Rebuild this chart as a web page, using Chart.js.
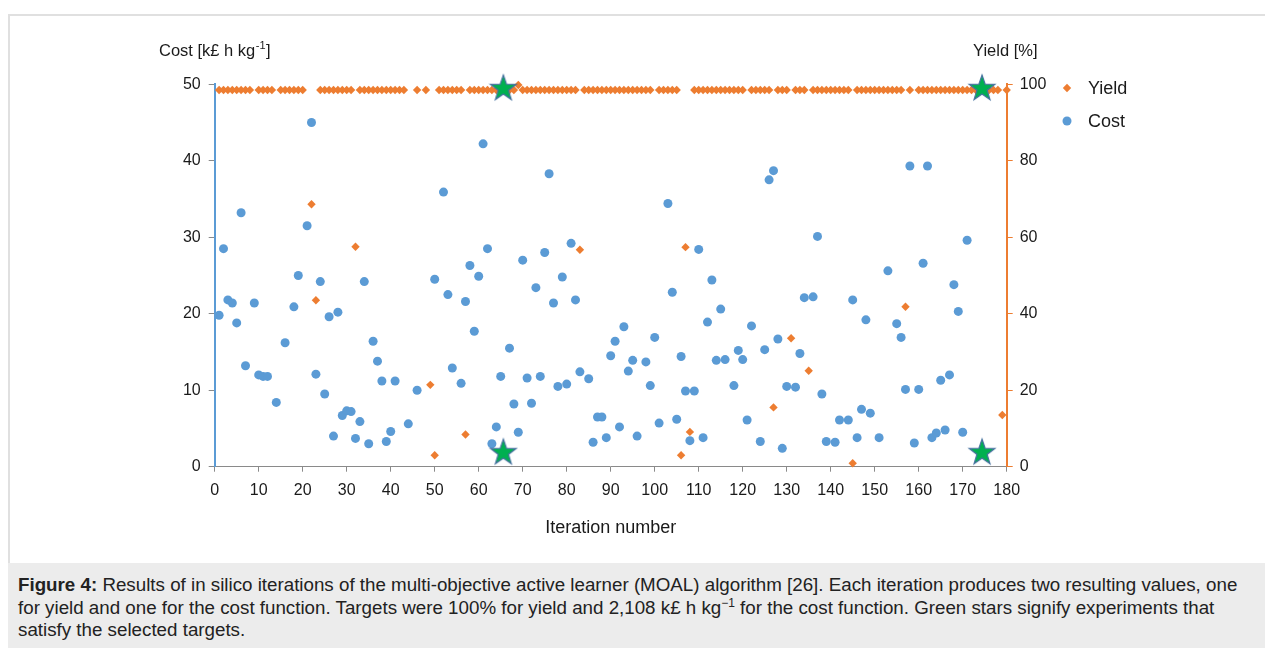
<!DOCTYPE html>
<html>
<head>
<meta charset="utf-8">
<script src="https://cdn.jsdelivr.net/npm/chart.js@4.4.1/dist/chart.umd.min.js"></script>
<style>
  body { margin: 0; background: #fff; width: 1265px; height: 648px; overflow: hidden; position: relative;
         font-family: 'Liberation Sans', Arial, sans-serif; }
  #frame { position: absolute; left: 8px; top: 14px; width: 1257px; height: 549px; box-sizing: border-box;
           border-top: 2px solid #e0e0e0; border-left: 2px solid #e0e0e0; }
  #chart { position: absolute; left: 0; top: 0; }
  #caption { position: absolute; left: 8px; top: 563px; width: 1257px; height: 85px; box-sizing: border-box;
             background: #ececec; padding: 11px 0 0 10px; font-size: 18.75px; line-height: 22.5px; color: #222;
             white-space: nowrap; }
  #caption sup { font-size: 12px; line-height: 0; }
</style>
</head>
<body>
<div id="frame"></div>
<canvas id="chart" width="1265" height="560"></canvas>
<div id="caption">
  <div><b>Figure 4:</b> Results of in silico iterations of the multi-objective active learner (MOAL) algorithm [26]. Each iteration produces two resulting values, one</div>
  <div>for yield and one for the cost function. Targets were 100% for yield and 2,108 k£ h kg<sup>−1</sup> for the cost function. Green stars signify experiments that</div>
  <div>satisfy the selected targets.</div>
</div>
<script>
// iteration numbers 1..180
const iterations = Array.from({ length: 180 }, (_, i) => i + 1);

// cost per iteration (null = not shown, above 50)
const costValues = [
  19.8, 28.5, 21.8, 21.4, 18.8, 33.2, 13.2, null, 21.4, 12.0,
  11.8, 11.8, null, 8.4, null, 16.2, null, 20.9, 25.0, null,
  31.5, 45.0, 12.1, 24.2, 9.5, 19.6, 4.0, 20.2, 6.7, 7.3,
  7.2, 3.7, 5.9, 24.2, 3.0, 16.4, 13.8, 11.2, 3.3, 4.6,
  11.2, null, null, 5.6, null, 10.0, null, null, null, 24.5,
  null, 35.9, 22.5, 12.9, null, 10.9, 21.6, 26.3, 17.7, 24.9,
  42.2, 28.5, 3.0, 5.2, 11.8, null, 15.5, 8.2, 4.5, 27.0,
  11.6, 8.3, 23.4, 11.8, 28.0, 38.3, 21.4, 10.5, 24.8, 10.8,
  29.2, 21.8, 12.4, null, 11.5, 3.2, 6.5, 6.5, 3.8, 14.5,
  16.4, 5.2, 18.3, 12.5, 13.9, 4.0, null, 13.7, 10.6, 16.9,
  5.7, null, 34.4, 22.8, 6.2, 14.4, 9.9, 3.4, 9.9, 28.4,
  3.8, 18.9, 24.4, 13.9, 20.6, 14.0, null, 10.6, 15.2, 14.0,
  6.1, 18.4, null, 3.3, 15.3, 37.5, 38.7, 16.7, 2.4, 10.5,
  null, 10.4, 14.8, 22.1, null, 22.2, 30.1, 9.5, 3.3, null,
  3.2, 6.1, null, 6.1, 21.8, 3.8, 7.5, 19.2, 7.0, null,
  3.8, null, 25.6, null, 18.7, 16.9, 10.1, 39.3, 3.1, 10.1,
  26.6, 39.3, 3.8, 4.4, 11.3, 4.8, 12.0, 23.8, 20.3, 4.5,
  29.6, null, null, null, null, null, null, null, null, null
];

// yield per iteration in %
const yieldValues = [
  98.5, 98.5, 98.5, 98.5, 98.5, 98.5, 98.5, 98.5, null, 98.5,
  98.5, 98.5, 98.5, null, 98.5, 98.5, 98.5, 98.5, 98.5, 98.5,
  null, 68.6, 43.5, 98.5, 98.5, 98.5, 98.5, 98.5, 98.5, 98.5,
  98.5, 57.5, 98.5, 98.5, 98.5, 98.5, 98.5, 98.5, 98.5, 98.5,
  98.5, 98.5, 98.5, null, null, 98.5, null, 98.5, 21.4, 3.0,
  98.5, 98.5, 98.5, 98.5, 98.5, 98.5, 8.4, 98.5, 98.5, 98.5,
  98.5, 98.5, 98.5, 98.5, 98.5, 98.5, 98.5, 98.5, 99.8, 98.5,
  98.5, 98.5, 98.5, 98.5, 98.5, 98.5, 98.5, 98.5, 98.5, 98.5,
  98.5, 98.5, 56.7, 98.5, 98.5, 98.5, 98.5, 98.5, 98.5, 98.5,
  98.5, 98.5, 98.5, 98.5, 98.5, 98.5, 98.5, 98.5, 98.5, null,
  98.5, 98.5, 98.5, 98.5, 98.5, 3.0, 57.4, 9.1, 98.5, 98.5,
  98.5, 98.5, 98.5, 98.5, 98.5, 98.5, 98.5, 98.5, 98.5, 98.5,
  null, 98.5, 98.5, 98.5, 98.5, 98.5, 15.5, 98.5, 98.5, 98.5,
  33.6, 98.5, 98.5, 98.5, 25.1, 98.5, 98.5, 98.5, 98.5, 98.5,
  98.5, 98.5, 98.5, 98.5, 0.9, 98.5, 98.5, 98.5, 98.5, 98.5,
  98.5, 98.5, 98.5, 98.5, 98.5, 98.5, 41.8, 98.5, null, 98.5,
  98.5, 98.5, 98.5, 98.5, 98.5, 98.5, 98.5, 98.5, 98.5, 98.5,
  98.5, 98.5, 98.5, 98.5, 98.5, 98.5, 98.5, 98.5, 13.5, 98.5
];

// green stars: experiments meeting both targets
const starIterations = [65.6, 174.4];
const starYield = [99, 99];
const starCost = [1.9, 1.9];

const ORANGE = '#ed7d31';
const BLUE = '#5b9bd5';
const TEXT = '#1a1a1a';
const FONT = "'Liberation Sans', Arial, sans-serif";

function toPoints(xs, ys) {
  return xs.map((x, i) => ({ x: x, y: ys[i] })).filter(p => p.y !== null);
}

// star marker drawn once on a small canvas
function makeStar() {
  const c = document.createElement('canvas');
  c.width = 30; c.height = 30;
  const g = c.getContext('2d');
  g.beginPath();
  for (let i = 0; i < 10; i++) {
    const r = i % 2 === 0 ? 13.5 : 5.4;
    const a = -Math.PI / 2 + i * Math.PI / 5;
    const px = 15 + r * Math.cos(a), py = 15.5 + r * Math.sin(a);
    if (i === 0) g.moveTo(px, py); else g.lineTo(px, py);
  }
  g.closePath();
  g.fillStyle = '#00b050';
  g.fill();
  g.lineWidth = 1.2;
  g.strokeStyle = '#44709e';
  g.stroke();
  return c;
}
const starImg = makeStar();

// legend + horizontal axis titles
const extras = {
  id: 'extras',
  afterDraw(chart) {
    const ctx = chart.ctx;
    ctx.save();
    ctx.textBaseline = 'middle';
    ctx.fillStyle = TEXT;

    // axis titles
    ctx.font = '16.5px ' + FONT;
    ctx.textAlign = 'left';
    let x = 159;
    const t1 = 'Cost [k£ h kg';
    ctx.fillText(t1, x, 51);
    x += ctx.measureText(t1).width;
    ctx.font = '11px ' + FONT;
    ctx.fillText('-1', x + 0.5, 46);
    x += ctx.measureText('-1').width + 1;
    ctx.font = '16.5px ' + FONT;
    ctx.fillText(']', x, 51);
    ctx.fillText('Yield [%]', 973, 51);

    // legend
    const items = chart.data.datasets.filter(d => d.inLegend);
    items.forEach((d, i) => {
      const ly = 88 + i * 33;
      ctx.fillStyle = d.backgroundColor;
      Chart.helpers.drawPoint(ctx, { pointStyle: d.pointStyle, radius: d.pointRadius, rotation: 0, borderWidth: 0 }, 1067, ly);
      ctx.fillStyle = TEXT;
      ctx.font = '18px ' + FONT;
      ctx.fillText(d.label, 1088, ly + 1);
    });
    ctx.restore();
  }
};

const ctx = document.getElementById('chart').getContext('2d');
new Chart(ctx, {
  type: 'scatter',
  data: {
    datasets: [
      {
        label: 'Target met', data: toPoints(starIterations, starYield), yAxisID: 'y2',
        pointStyle: starImg, order: 0
      },
      {
        label: 'Target met', data: toPoints(starIterations, starCost), yAxisID: 'y',
        pointStyle: starImg, order: 0
      },
      {
        label: 'Yield', inLegend: true, data: toPoints(iterations, yieldValues), yAxisID: 'y2',
        pointStyle: 'rectRot', pointRadius: 4.2, backgroundColor: ORANGE, borderColor: ORANGE,
        borderWidth: 0, order: 2
      },
      {
        label: 'Cost', inLegend: true, data: toPoints(iterations, costValues), yAxisID: 'y',
        pointStyle: 'circle', pointRadius: 4.5, backgroundColor: BLUE, borderColor: BLUE,
        borderWidth: 0, order: 1
      }
    ]
  },
  options: {
    responsive: false,
    animation: false,
    clip: false,
    layout: { padding: { top: 84.2, left: 0, right: 0, bottom: 0 } },
    plugins: { legend: { display: false }, tooltip: { enabled: false } },
    scales: {
      x: {
        type: 'linear', min: 0, max: 180,
        ticks: { stepSize: 10, padding: 9, color: TEXT, font: { size: 16, family: FONT } },
        grid: { drawOnChartArea: false, drawTicks: true, tickLength: 5, tickColor: '#8a8a8a' },
        border: { display: true, color: '#8a8a8a', width: 1 },
        title: {
          display: true, text: 'Iteration number', color: TEXT,
          font: { size: 18, family: FONT }, padding: { top: 0, bottom: 21 }
        },
        afterFit: s => { s.height = 93.3; }
      },
      y: {
        position: 'left', min: 0, max: 50,
        ticks: { stepSize: 10, padding: 8, color: TEXT, font: { size: 16, family: FONT } },
        grid: { drawOnChartArea: false, drawTicks: true, tickLength: 6, tickColor: '#8a8a8a' },
        border: { display: true, color: BLUE, width: 2 },
        afterFit: s => { s.width = 214.7; }
      },
      y2: {
        position: 'right', min: 0, max: 100,
        ticks: { stepSize: 20, padding: 7, color: TEXT, font: { size: 16, family: FONT } },
        grid: { drawOnChartArea: false, drawTicks: true, tickLength: 6, tickColor: ORANGE },
        border: { display: true, color: ORANGE, width: 2 },
        afterFit: s => { s.width = 1265 - 1006.7; }
      }
    }
  },
  plugins: [extras]
});
</script>
</body>
</html>
